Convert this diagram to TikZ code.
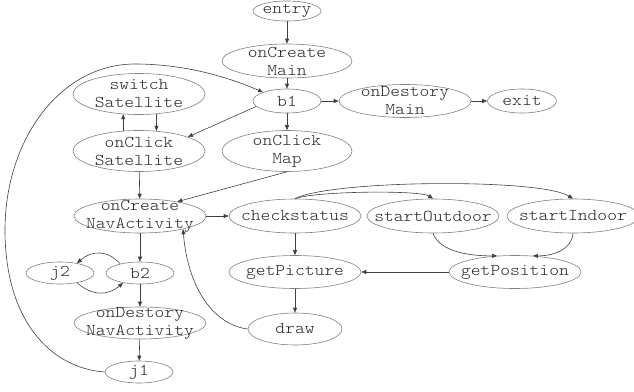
\documentclass[tikz,border=0pt]{standalone}
\usepackage{fontspec}
\setmonofont{Latin Modern Mono Light}[FakeStretch=1.13]
\usetikzlibrary{shapes.geometric,arrows.meta}
\begin{document}
\begin{tikzpicture}[x=1pt,y=-1pt,
  el/.style 2 args={ellipse, draw=black!50, line width=0.6pt, minimum width=#1pt, minimum height=#2pt, inner sep=0pt},
  tx/.style={font=\ttfamily\fontsize{16.5}{18}\selectfont, text=black!85, align=center, inner sep=0pt},
  ed/.style={draw=black!75, line width=0.6pt, -{Triangle[length=5pt,width=4pt]}}]
\useasboundingbox (0,0) rectangle (634,391);
\node[el={68}{20}, label={[tx]center:entry}] (entry) at (287,11) {};
\node[el={130}{34}, label={[tx]center:{onCreate\\Main}}] (ocmain) at (287,61) {};
\node[el={68}{24}, label={[tx]center:b1}] (b1) at (287,101) {};
\node[el={132}{41}, label={[tx]center:{switch\\Satellite}}] (ss) at (139,94) {};
\node[el={132}{41}, label={[tx]center:{onClick\\Satellite}}] (ocs) at (139,151) {};
\node[el={130}{41}, label={[tx]center:{onClick\\Map}}] (ocm) at (287,151) {};
\node[el={132}{33}, label={[tx]center:{onDestory\\Main}}] (odm) at (405,101) {};
\node[el={69}{24}, label={[tx]center:exit}] (exit) at (522,101) {};
\node[el={132}{34}, label={[tx]center:{onCreate\\NavActivity}}] (ocn) at (140,216) {};
\node[el={132}{34}, label={[tx]center:checkstatus}] (cs) at (295,216) {};
\node[el={132}{34}, label={[tx]center:startOutdoor}] (so) at (433,216) {};
\node[el={132}{34}, label={[tx]center:startIndoor}] (si) at (573,216) {};
\node[el={132}{33}, label={[tx]center:getPicture}] (gpic) at (295,272) {};
\node[el={132}{33}, label={[tx]center:getPosition}] (gp) at (515,272) {};
\node[el={94}{32}, label={[tx]center:draw}] (draw) at (295,329) {};
\node[el={68}{22}, label={[tx]center:j2}] (j2) at (60,273) {};
\node[el={68}{22}, label={[tx]center:b2}] (b2) at (140,273) {};
\node[el={132}{32}, label={[tx]center:{onDestory\\NavActivity}}] (odn) at (140,323) {};
\node[el={68}{22}, label={[tx]center:j1}] (j1) at (139,372) {};
\draw[ed] (entry) -- (ocmain);
\draw[ed] (ocmain) -- (b1);
\draw[ed] (b1) -- (odm);
\draw[ed] (odm) -- (exit);
\draw[ed] (b1.190) -- (ocs.16);
\draw[ed] (b1) -- (ocm);
\draw[ed] (ocs.128) -- (ss.232);
\draw[ed] (ss.-49) -- (ocs.49);
\draw[ed] (ocs) -- (ocn);
\draw[ed] (ocm.south) -- (ocn.21);
\draw[ed] (ocn) -- (cs);
\draw[ed] (ocn) -- (b2);
\draw[ed] (b2.155) .. controls (108,250) and (92,250) .. (j2.30);
\draw[ed] (j2.-30) .. controls (92,296) and (108,296) .. (b2.-150);
\draw[ed] (b2) -- (odn);
\draw[ed] (odn) -- (j1);
\draw[ed] (j1.west) .. controls (50,368) and (5,320) .. (5,230) .. controls (5,140) and (60,64) .. (135,64) .. controls (190,64) and (235,80) .. (b1.160);
\draw[ed] (cs.north) .. controls (315,191) and (420,190) .. (so.north);
\draw[ed] (cs.north) .. controls (330,180) and (540,178) .. (si.north);
\draw[ed] (cs) -- (gpic);
\draw[ed] (so.south) .. controls (440,252) and (470,256) .. (gp.138);
\draw[ed] (si.south) .. controls (572,250) and (552,256) .. (gp.42);
\draw[ed] (gp) -- (gpic);
\draw[ed] (gpic) -- (draw);
\draw[ed] (draw.west) .. controls (215,325) and (188,290) .. (ocn.-17);
\end{tikzpicture}
\end{document}
